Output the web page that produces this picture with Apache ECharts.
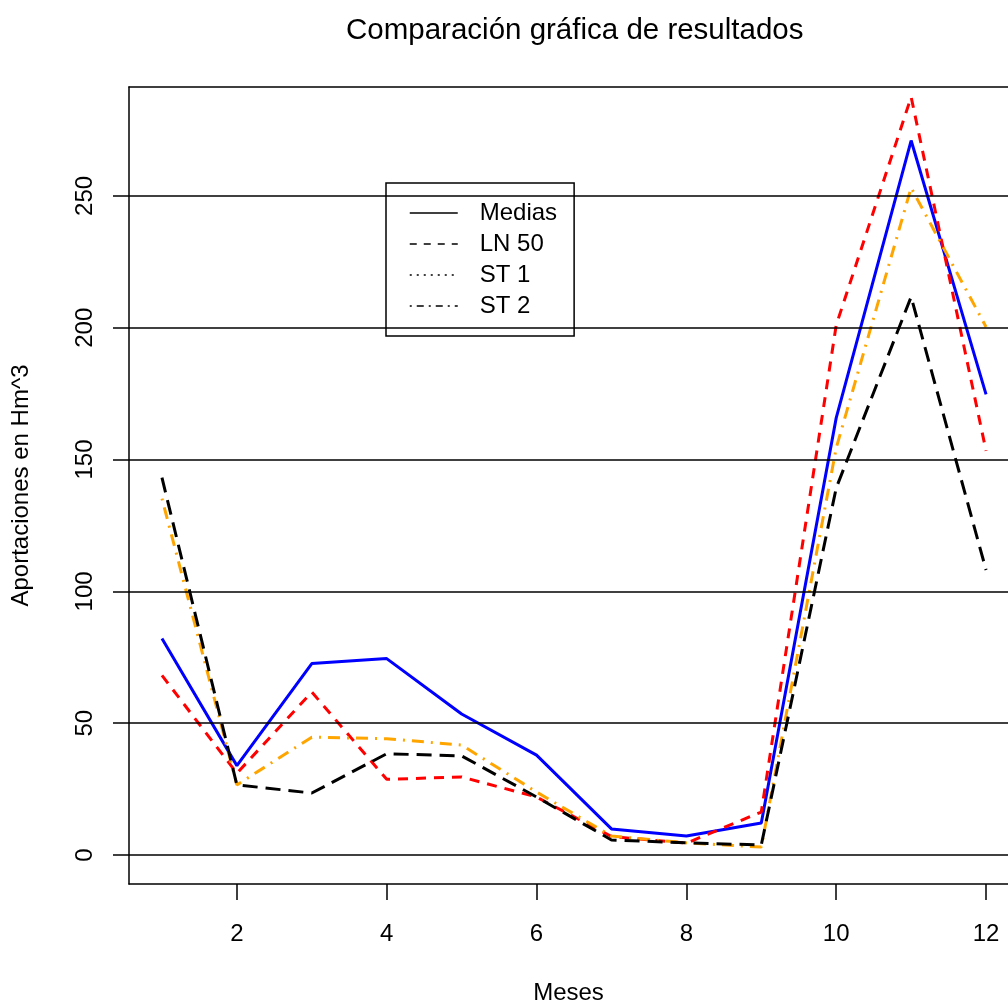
<!DOCTYPE html>
<html>
<head>
<meta charset="utf-8">
<title>Comparación gráfica de resultados</title>
<script src="https://cdn.jsdelivr.net/npm/echarts@6/dist/echarts.min.js"></script>
<style>
  html, body { margin: 0; padding: 0; background: #fff; }
  #chart { width: 1008px; height: 1004px; }
</style>
</head>
<body>
<div id="chart"></div>
<script>
// Data
const months = [1, 2, 3, 4, 5, 6, 7, 8, 9, 10, 11, 12];
const medias = [82.1, 33.9, 72.6, 74.5, 53.5, 37.9, 9.9, 7.2, 12.1, 165.8, 271.0, 174.7];
const ln50 = [68.1, 31.0, 61.8, 28.7, 29.6, 22.0, 7.0, 4.5, 16.3, 201.0, 287.5, 153.3];
const st1 = [135.2, 26.6, 44.7, 44.1, 41.7, 23.9, 7.2, 4.6, 3.0, 154.4, 253.1, 200.3];
const st2 = [143.1, 26.6, 23.5, 38.4, 37.6, 22.0, 5.7, 4.6, 3.8, 139.2, 211.7, 108.1];
const xTicks = [2, 4, 6, 8, 10, 12];
const yTicks = [0, 50, 100, 150, 200, 250];

const FONT = "Liberation Sans, Arial, Helvetica, sans-serif";

const chart = echarts.init(document.getElementById("chart"), null, { renderer: "canvas" });

function pairs(values) {
  return months.map((m, i) => [m, values[i]]);
}

function lineSeries(name, values, color, type, extra) {
  return Object.assign({
    name: name,
    type: "line",
    data: pairs(values),
    symbol: "none",
    silent: true,
    lineStyle: { color: color, width: 3, type: type },
    itemStyle: { color: color },
  }, extra || {});
}

// the plot box runs past the right edge of the picture, as in the original
const X_MIN = 0.56;
const X_MAX = 12.293;

const hidden = { color: "rgba(0,0,0,0)", borderWidth: 0 };

const option = {
  animation: false,
  title: {
    text: "Comparación gráfica de resultados",
    left: 341,
    top: 11,
    textStyle: { fontFamily: FONT, fontSize: 29.5, fontWeight: "normal", color: "#000" },
  },
  legend: {
    orient: "vertical",
    left: 386,
    top: 183,
    padding: [18, 17, 18, 23],
    itemWidth: 48,
    itemHeight: 14,
    itemGap: 7,
    borderColor: "#000",
    borderWidth: 1.5,
    borderRadius: 0,
    selectedMode: false,
    itemStyle: hidden,
    textStyle: { fontFamily: FONT, fontSize: 24, color: "#000", lineHeight: 24, padding: [0, 0, 0, 17] },
    data: [
      { name: "Medias", itemStyle: hidden, lineStyle: { color: "#000", width: 1.5, type: "solid" } },
      { name: "LN 50", itemStyle: hidden, lineStyle: { color: "#000", width: 1.5, type: [7, 7] } },
      { name: "ST 1", itemStyle: hidden, lineStyle: { color: "#000", width: 1.5, type: [2, 5] } },
      { name: "ST 2", itemStyle: hidden, lineStyle: { color: "#000", width: 1.5, type: [2, 5, 7, 5] } },
    ],
  },
  grid: {
    left: 129,
    top: 87,
    right: 0,
    bottom: 120,
    show: false,
    outerBoundsMode: "none",
  },
  xAxis: [
    {
      type: "value",
      min: X_MIN,
      max: X_MAX,
      name: "Meses",
      nameLocation: "middle",
      nameGap: 97,
      nameTextStyle: { fontFamily: FONT, fontSize: 24, color: "#000" },
      axisLine: { show: true, onZero: false, lineStyle: { color: "#000", width: 1.5 } },
      axisTick: { show: true, length: 16, customValues: xTicks, lineStyle: { color: "#000", width: 1.5 } },
      axisLabel: { customValues: xTicks, margin: 38, fontFamily: FONT, fontSize: 24, color: "#000" },
      splitLine: { show: false },
    },
    {
      // top edge of the plot box
      type: "value",
      position: "top",
      min: X_MIN,
      max: X_MAX,
      axisLine: { show: true, onZero: false, lineStyle: { color: "#000", width: 1.5 } },
      axisTick: { show: false },
      axisLabel: { show: false },
      splitLine: { show: false },
    },
  ],
  yAxis: {
    type: "value",
    min: -11,
    max: 291.3,
    name: "Aportaciones en Hm^3",
    nameLocation: "middle",
    nameGap: 96,
    nameRotate: 90,
    nameTextStyle: { fontFamily: FONT, fontSize: 24, color: "#000" },
    axisLine: { show: true, onZero: false, lineStyle: { color: "#000", width: 1.5 } },
    axisTick: { show: true, length: 16, customValues: yTicks, lineStyle: { color: "#000", width: 1.5 } },
    axisLabel: { customValues: yTicks, rotate: 90, margin: 32, fontFamily: FONT, fontSize: 24, color: "#000" },
    splitLine: { show: false },
  },
  series: [
    lineSeries("Medias", medias, "#0000FF", "solid", {
      markLine: {
        silent: true,
        symbol: "none",
        label: { show: false },
        lineStyle: { color: "#000", width: 1.5, type: "solid" },
        data: yTicks.map((v) => ({ yAxis: v })),
      },
    }),
    lineSeries("LN 50", ln50, "#FF0000", [10, 8]),
    lineSeries("ST 1", st1, "#FFA500", [2, 7, 12, 7]),
    lineSeries("ST 2", st2, "#000000", [15, 8]),
  ],
};

chart.setOption(option);
</script>
</body>
</html>
